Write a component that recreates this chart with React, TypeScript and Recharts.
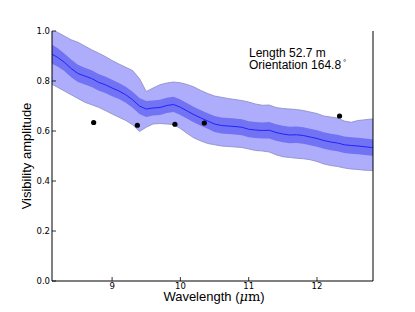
import React from 'react';
import { ComposedChart, Area, Line, Scatter, XAxis, YAxis } from 'recharts';

// wavelength grid (micron)
const wavelength = [
  8.1, 8.2, 8.3, 8.4, 8.5, 8.6, 8.7, 8.8, 8.9, 9.0,
  9.1, 9.2, 9.3, 9.4, 9.5, 9.6, 9.7, 9.8, 9.9, 10.0,
  10.1, 10.2, 10.3, 10.4, 10.5, 10.6, 10.7, 10.8, 10.9, 11.0,
  11.1, 11.2, 11.3, 11.4, 11.5, 11.6, 11.7, 11.8, 11.9, 12.0,
  12.1, 12.2, 12.3, 12.4, 12.5, 12.6, 12.7, 12.8, 12.9,
];

const meanAmp = [
  0.91, 0.895, 0.875, 0.85, 0.83, 0.82, 0.81, 0.795, 0.785, 0.772,
  0.76, 0.745, 0.725, 0.70, 0.688, 0.692, 0.694, 0.702, 0.706, 0.695,
  0.68, 0.665, 0.652, 0.64, 0.628, 0.622, 0.62, 0.618, 0.615, 0.607,
  0.604, 0.602, 0.603, 0.594, 0.588, 0.584, 0.585, 0.582, 0.576, 0.57,
  0.562, 0.556, 0.552, 0.545, 0.542, 0.54, 0.537, 0.534, 0.532,
];

const darkHigh = [
  0.948, 0.932, 0.91, 0.886, 0.865, 0.853, 0.843, 0.828, 0.818, 0.805,
  0.792, 0.777, 0.757, 0.732, 0.72, 0.722, 0.725, 0.733, 0.737, 0.726,
  0.711, 0.696, 0.683, 0.671, 0.66, 0.654, 0.652, 0.65, 0.647, 0.639,
  0.636, 0.634, 0.636, 0.627, 0.621, 0.617, 0.618, 0.615, 0.609, 0.603,
  0.595, 0.589, 0.585, 0.578, 0.575, 0.573, 0.57, 0.567, 0.565,
];

const darkLow = [
  0.872, 0.858, 0.84, 0.815, 0.796, 0.786, 0.776, 0.762, 0.752, 0.739,
  0.728, 0.713, 0.693, 0.668, 0.656, 0.662, 0.664, 0.672, 0.676, 0.664,
  0.649, 0.634, 0.621, 0.609, 0.596, 0.59, 0.588, 0.586, 0.583, 0.575,
  0.572, 0.57, 0.57, 0.561, 0.555, 0.551, 0.552, 0.549, 0.543, 0.537,
  0.529, 0.523, 0.519, 0.512, 0.509, 0.507, 0.504, 0.501, 0.499,
];

const lightHigh = [
  1.01, 0.995, 0.98, 0.965, 0.955, 0.94, 0.925, 0.912, 0.898, 0.882,
  0.868, 0.855, 0.842, 0.81, 0.758, 0.772, 0.785, 0.792, 0.796, 0.793,
  0.786, 0.776, 0.762, 0.75, 0.74, 0.735, 0.73, 0.726, 0.722, 0.716,
  0.708, 0.703, 0.704, 0.694, 0.69, 0.688, 0.686, 0.682, 0.676, 0.67,
  0.66, 0.656, 0.652, 0.64, 0.635, 0.642, 0.645, 0.648, 0.646,
];

const lightLow = [
  0.79, 0.775, 0.76, 0.745, 0.73, 0.715, 0.705, 0.695, 0.682, 0.668,
  0.655, 0.642, 0.625, 0.598, 0.615, 0.628, 0.63, 0.628, 0.626, 0.61,
  0.59, 0.572, 0.56, 0.55, 0.545, 0.54, 0.538, 0.536, 0.534, 0.528,
  0.522, 0.52, 0.516, 0.505, 0.497, 0.494, 0.491, 0.489, 0.485, 0.478,
  0.468, 0.462, 0.458, 0.452, 0.448, 0.446, 0.443, 0.442, 0.44,
];

// measured points
const obsWavelength = [8.73, 9.37, 9.92, 10.35, 12.33];
const obsAmp = [0.634, 0.623, 0.627, 0.632, 0.66];

const xTicks = [9, 10, 11, 12];
const yTicks = [0, 0.2, 0.4, 0.6, 0.8, 1.0];

const rows = wavelength.map((w, i) => ({
  w,
  light: [lightLow[i], lightHigh[i]],
  dark: [darkLow[i], darkHigh[i]],
  mean: meanAmp[i],
}));
const dots = obsWavelength.map((w, i) => ({ w, v: obsAmp[i] }));

const TICK_FONT = 'DejaVu Sans, sans-serif';
const LABEL_FONT = 'Liberation Sans, Arial, sans-serif';

const BottomTick = ({ x, y, payload }: any) => (
  <g>
    <line x1={x} x2={x} y1={y} y2={y - 4} stroke="#000" strokeWidth={0.8} />
    <text x={x} y={y + 7.5} textAnchor="middle" fontSize={8.5} fontFamily={TICK_FONT} fill="#000">
      {payload.value}
    </text>
  </g>
);

const TopTick = ({ x, y }: any) => (
  <line x1={x} x2={x} y1={y} y2={y + 4} stroke="#000" strokeWidth={0.8} />
);

const LeftTick = ({ x, y, payload }: any) => (
  <g>
    <line x1={x} x2={x + 4} y1={y} y2={y} stroke="#000" strokeWidth={0.8} />
    <text x={x - 2} y={y + 3} textAnchor="end" fontSize={8.5} fontFamily={TICK_FONT} fill="#000">
      {Number(payload.value).toFixed(1)}
    </text>
  </g>
);

const RightTick = ({ x, y }: any) => (
  <line x1={x} x2={x - 4} y1={y} y2={y} stroke="#000" strokeWidth={0.8} />
);

const Dot = ({ cx, cy }: any) => <circle cx={cx} cy={cy} r={2.6} fill="#000" />;

export default function App() {
  return (
    <div style={{ position: 'absolute', left: 0, top: 0, width: 415, height: 312, background: '#fff' }}>
      <ComposedChart width={415} height={312} data={rows} margin={{ top: 31, right: 0, bottom: 0, left: 0 }}>
        <XAxis
          dataKey="w"
          type="number"
          domain={[8.12, 12.82]}
          allowDataOverflow
          ticks={xTicks}
          interval={0}
          height={31}
          tickSize={0}
          tickMargin={0}
          axisLine={{ stroke: '#000' }}
          tickLine={false}
          tick={<BottomTick />}
        />
        <XAxis
          xAxisId="top"
          orientation="top"
          dataKey="w"
          type="number"
          domain={[8.12, 12.82]}
          allowDataOverflow
          ticks={xTicks}
          interval={0}
          height={0}
          tickSize={0}
          tickMargin={0}
          axisLine={{ stroke: '#000' }}
          tickLine={false}
          tick={<TopTick />}
        />
        <YAxis
          type="number"
          domain={[0, 1]}
          allowDataOverflow
          ticks={yTicks}
          interval={0}
          width={52}
          tickSize={0}
          tickMargin={0}
          axisLine={{ stroke: '#000' }}
          tickLine={false}
          tick={<LeftTick />}
        />
        <YAxis
          yAxisId="right"
          orientation="right"
          type="number"
          domain={[0, 1]}
          ticks={yTicks}
          interval={0}
          width={42}
          tickSize={0}
          tickMargin={0}
          axisLine={{ stroke: '#000' }}
          tickLine={false}
          tick={<RightTick />}
        />
        <Area
          dataKey="light"
          type="linear"
          fill="#adadfb"
          fillOpacity={1}
          stroke="#8a8ac4"
          strokeWidth={0.8}
          isAnimationActive={false}
        />
        <Area
          dataKey="dark"
          type="linear"
          fill="#7272f4"
          fillOpacity={1}
          stroke="none"
          isAnimationActive={false}
        />
        <Line
          dataKey="mean"
          type="linear"
          stroke="#2222ff"
          strokeWidth={1}
          dot={false}
          isAnimationActive={false}
        />
        <Scatter data={dots} dataKey="v" shape={<Dot />} isAnimationActive={false} />
      </ComposedChart>
      <svg
        width={415}
        height={312}
        style={{ position: 'absolute', left: 0, top: 0, pointerEvents: 'none' }}
      >
        <text x={249} y={56.5} fontSize={12} fontFamily={LABEL_FONT} fill="#000">
          Length 52.7 m
        </text>
        <text x={249} y={69} fontSize={12} fontFamily={LABEL_FONT} fill="#000">
          Orientation 164.8
          <tspan dx={2} dy={-4} fontSize={8}>
            °
          </tspan>
        </text>
        <text x={214} y={301} textAnchor="middle" fontSize={13} fontFamily={LABEL_FONT} fill="#000">
          Wavelength (
          <tspan fontFamily="DejaVu Serif, serif" fontStyle="italic">μ</tspan>
          <tspan fontFamily="DejaVu Serif, serif">m</tspan>)
        </text>
        <text
          x={31}
          y={156}
          transform="rotate(-90 31 156)"
          textAnchor="middle"
          fontSize={13}
          fontFamily={LABEL_FONT}
          fill="#000"
        >
          Visibility amplitude
        </text>
      </svg>
    </div>
  );
}
